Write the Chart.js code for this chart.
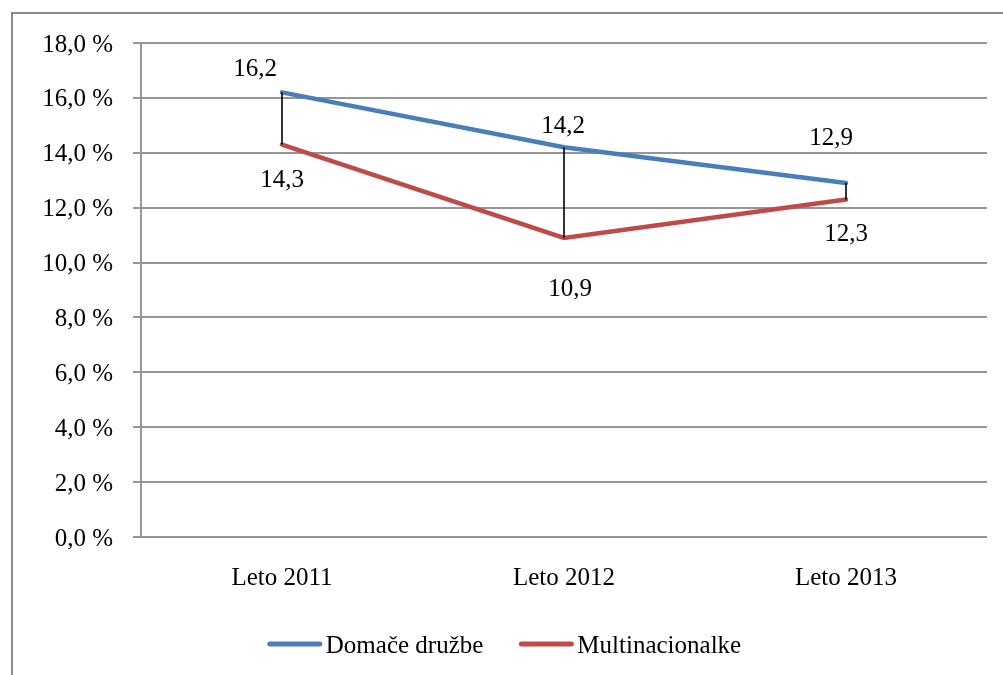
<!DOCTYPE html>
<html lang="sl">
<head>
    <meta charset="UTF-8">
    <title>Domače družbe / Multinacionalke</title>
    <script src="https://cdn.jsdelivr.net/npm/chart.js"></script>
    <style>
        body { margin: 0; background: #fff; }
    </style>
</head>
<body>
    <canvas id="chart" width="1003" height="675"></canvas>

<script>
// ---------------- podatki ----------------
const categories = ['Leto 2011', 'Leto 2012', 'Leto 2013'];
const domaceDruzbe = [16.2, 14.2, 12.9];
const multinacionalke = [14.3, 10.9, 12.3];
const seriesNames = ['Domače družbe', 'Multinacionalke'];
const yTicks = [0, 2, 4, 6, 8, 10, 12, 14, 16, 18];

// ---------------- videz ----------------
const FONT = "'Liberation Serif', 'Times New Roman', serif";
const BLUE = '#4a7ebb';
const RED = '#be4b48';
const GRID = '#969696';
// zamik oznak (dx, dy) od točke do središča besedila
const labelShift = [
    [[-27, -23], [-1, -21], [-15, -45]],
    [[0, 36], [6, 52], [0, 35]]
];

const fmt = v => v.toFixed(1).replace('.', ',');

// okvir grafikona
const framePlugin = {
    id: 'frame',
    beforeDraw(chart) {
        const ctx = chart.ctx;
        ctx.save();
        ctx.strokeStyle = '#8a8a8a';
        ctx.lineWidth = 2;
        ctx.strokeRect(12, 13, chart.width + 20, chart.height + 20);
        ctx.restore();
    }
};

// črte med serijama (high-low)
const hiLoPlugin = {
    id: 'hiLo',
    afterDatasetsDraw(chart) {
        const ctx = chart.ctx;
        const x = chart.scales.x, y = chart.scales.y;
        ctx.save();
        ctx.strokeStyle = '#000';
        ctx.lineWidth = 1.6;
        categories.forEach((c, i) => {
            const px = x.getPixelForValue(i);
            ctx.beginPath();
            ctx.moveTo(px, y.getPixelForValue(domaceDruzbe[i]));
            ctx.lineTo(px, y.getPixelForValue(multinacionalke[i]));
            ctx.stroke();
        });
        ctx.restore();
    }
};

// oznake podatkov
const labelPlugin = {
    id: 'labels',
    afterDraw(chart) {
        const ctx = chart.ctx;
        ctx.save();
        ctx.font = '25px ' + FONT;
        ctx.fillStyle = '#000';
        ctx.textAlign = 'center';
        ctx.textBaseline = 'middle';
        chart.data.datasets.forEach((ds, d) => {
            const meta = chart.getDatasetMeta(d);
            meta.data.forEach((pt, i) => {
                const s = labelShift[d][i];
                ctx.fillText(fmt(ds.data[i]), pt.x + s[0], pt.y + s[1]);
            });
        });
        ctx.restore();
    }
};

// legenda spodaj
const legendPlugin = {
    id: 'legendBottom',
    afterDraw(chart) {
        const ctx = chart.ctx;
        ctx.save();
        ctx.font = '25px ' + FONT;
        const lineW = 54, gapText = 4, gapItem = 36;
        const items = chart.data.datasets.map(ds => ({ label: ds.label, color: ds.borderColor, w: ctx.measureText(ds.label).width }));
        let total = 0;
        items.forEach((it, i) => { total += lineW + gapText + it.w + (i ? gapItem : 0); });
        let x = chart.width / 2 + 3 - total / 2;
        const y = 644;
        items.forEach(it => {
            ctx.strokeStyle = it.color;
            ctx.lineWidth = 5;
            ctx.lineCap = 'round';
            ctx.beginPath();
            ctx.moveTo(x + 2, y);
            ctx.lineTo(x + lineW - 2, y);
            ctx.stroke();
            ctx.fillStyle = '#000';
            ctx.textBaseline = 'middle';
            ctx.textAlign = 'left';
            ctx.fillText(it.label, x + lineW + gapText, y + 2);
            x += lineW + gapText + it.w + gapItem;
        });
        ctx.restore();
    }
};

new Chart(document.getElementById('chart'), {
    type: 'line',
    data: {
        labels: categories,
        datasets: [{
            label: seriesNames[0],
            data: domaceDruzbe,
            borderColor: BLUE,
            backgroundColor: BLUE,
            borderWidth: 4.5,
            borderCapStyle: 'round',
            pointRadius: 0,
            tension: 0
        }, {
            label: seriesNames[1],
            data: multinacionalke,
            borderColor: RED,
            backgroundColor: RED,
            borderWidth: 4.5,
            borderCapStyle: 'round',
            pointRadius: 0,
            tension: 0
        }]
    },
    options: {
        responsive: false,
        animation: false,
        layout: { padding: { left: 0, right: 16, top: 43, bottom: 0 } },
        plugins: {
            legend: { display: false },
            tooltip: { enabled: false }
        },
        scales: {
            x: {
                offset: true,
                grid: { display: false, drawTicks: false },
                border: { display: false },
                ticks: { color: '#000', padding: 26, font: { family: FONT, size: 25 } },
                afterFit(scale) { scale.height = 138; }
            },
            y: {
                min: 0,
                max: 18,
                afterBuildTicks(scale) { scale.ticks = yTicks.map(v => ({ value: v })); },
                grid: { color: GRID, lineWidth: 2, tickLength: 8 },
                border: { color: GRID, width: 2 },
                ticks: {
                    color: '#000',
                    padding: 20,
                    labelOffset: 2,
                    font: { family: FONT, size: 25 },
                    callback: v => fmt(v) + ' %'
                },
                afterFit(scale) { scale.width = 141; }
            }
        }
    },
    plugins: [framePlugin, hiLoPlugin, labelPlugin, legendPlugin]
});
</script>
</body>
</html>
